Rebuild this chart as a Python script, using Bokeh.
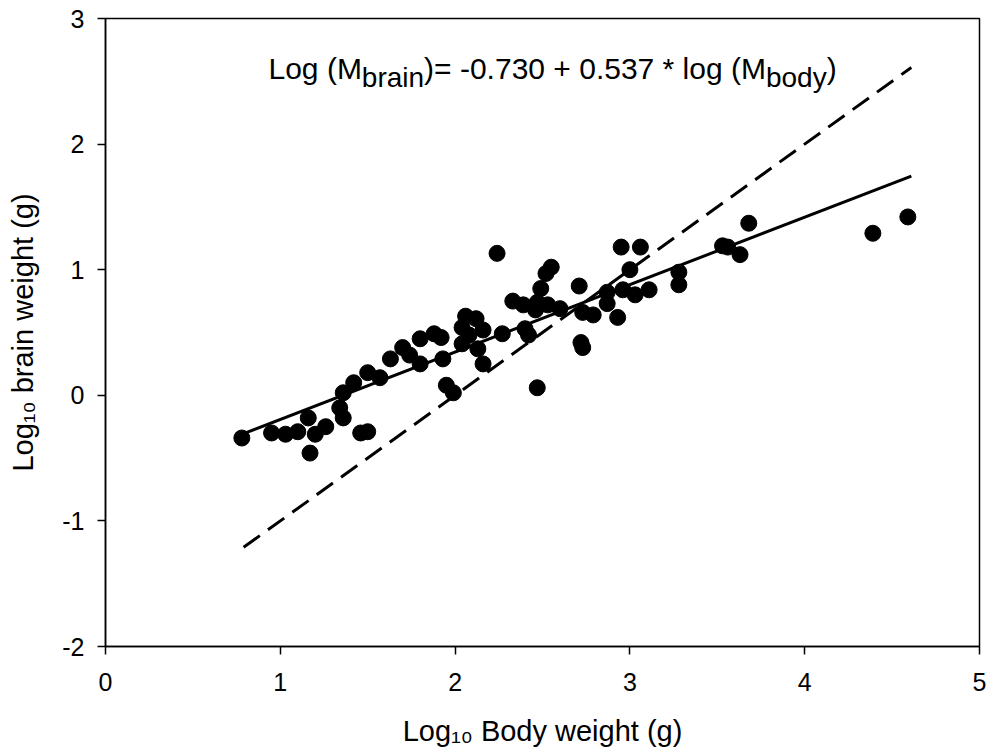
import math
from bokeh.plotting import figure
from bokeh.models import Label, Range1d, FixedTicker
from bokeh.embed import file_html
from bokeh.resources import INLINE

# ---- data ----
body = [0.78, 0.95, 1.03, 1.10, 1.16, 1.20, 1.26, 1.17, 1.36, 1.34, 1.36, 1.42,
        1.46, 1.50, 1.50, 1.57,
        2.24, 2.55, 2.52, 2.49, 2.71, 2.33, 2.39, 2.47, 2.46, 2.53, 2.60, 2.73,
        2.79, 2.72, 2.73, 2.47, 2.06, 2.12, 2.04, 2.16, 2.08, 2.04, 2.13, 2.27,
        2.40, 2.42, 2.16, 1.95, 1.99, 1.80, 1.88, 1.92, 1.93, 1.70, 1.63, 1.74,
        1.80,
        2.95, 3.06, 3.00, 2.87, 2.96, 3.03, 3.11, 3.28, 3.28, 2.93, 2.87,
        3.68, 3.53, 3.56, 3.63, 4.39, 4.59]
brain = [-0.34, -0.30, -0.31, -0.29, -0.18, -0.31, -0.25, -0.46, 0.02, -0.10, -0.18, 0.10,
         -0.30, -0.29, 0.18, 0.14,
         1.13, 1.02, 0.97, 0.85, 0.87, 0.75, 0.72, 0.74, 0.68, 0.72, 0.69, 0.66,
         0.64, 0.42, 0.38, 0.06, 0.63, 0.61, 0.54, 0.52, 0.48, 0.41, 0.37, 0.49,
         0.53, 0.48, 0.25, 0.08, 0.02, 0.45, 0.49, 0.46, 0.29, 0.38, 0.29, 0.32,
         0.25,
         1.18, 1.18, 1.00, 0.82, 0.84, 0.80, 0.84, 0.98, 0.88, 0.62, 0.73,
         1.37, 1.19, 1.18, 1.12, 1.29, 1.42]
fit_x = [0.79, 4.61]
fit_intercept, fit_slope = -0.730, 0.537
ref_x = [0.79, 4.61]
ref_intercept, ref_slope = -2.0, 1.0
x_ticks = [0, 1, 2, 3, 4, 5]
y_ticks = [-2, -1, 0, 1, 2, 3]
x_tick_labels = ["0", "1", "2", "3", "4", "5"]
y_tick_labels = ["-2", "-1", "0", "1", "2", "3"]
x_label = "Log\u2081\u2080 Body weight (g)"
y_label = "Log\u2081\u2080 brain weight (g)"
x_lim = (0, 5)
y_lim = (-2, 3)

FONT = "Liberation Sans"
FW, FH = 874, 628
SX = FW / (x_lim[1] - x_lim[0])
SY = FH / (y_lim[1] - y_lim[0])

p = figure(frame_width=FW, frame_height=FH,
           x_range=Range1d(*x_lim), y_range=Range1d(*y_lim),
           output_backend="svg", toolbar_location=None,
           min_border_left=105, min_border_right=7,
           min_border_top=18, min_border_bottom=108,
           background_fill_color="white", border_fill_color="white")

p.grid.visible = False
p.outline_line_color = "black"
p.outline_line_width = 1.5
for ax, ticks, labels in ((p.xaxis, x_ticks, x_tick_labels),
                          (p.yaxis, y_ticks, y_tick_labels)):
    ax.ticker = FixedTicker(ticks=ticks)
    ax.major_label_overrides = {t: l for t, l in zip(ticks, labels)}
    ax.axis_line_color = "black"
    ax.axis_line_width = 1.5
    ax.major_tick_line_color = "black"
    ax.major_tick_line_width = 1.5
    ax.major_tick_in = 0
    ax.major_tick_out = 8
    ax.minor_tick_line_color = None
    ax.major_label_text_font = FONT
    ax.major_label_text_font_size = "25px"
    ax.major_label_text_color = "black"
    ax.axis_label_text_font = FONT
    ax.axis_label_text_font_size = "29px"
    ax.axis_label_text_font_style = "normal"
    ax.axis_label_text_color = "black"
p.xaxis.major_label_standoff = 18
p.yaxis.major_label_standoff = 13
p.xaxis.axis_label = x_label
p.yaxis.axis_label = y_label
p.xaxis.axis_label_standoff = 21
p.yaxis.axis_label_standoff = 20

# regression line and reference (slope 1) line
p.line(ref_x, [ref_intercept + ref_slope * v for v in ref_x],
       line_color="black", line_width=3, line_dash="20 10")
p.line(fit_x, [fit_intercept + fit_slope * v for v in fit_x],
       line_color="black", line_width=3)
p.scatter(body, brain, size=16, fill_color="black", line_color="black")

# ---- equation built from pieces (Arial / Liberation Sans metrics) ----
W = {' ': 278, '(': 333, ')': 333, '*': 389, '+': 584, '-': 333, '.': 278,
     '=': 584, 'B': 667, 'L': 556, 'M': 833, 'a': 556, 'b': 556, 'd': 556,
     'e': 556, 'g': 556, 'h': 556, 'i': 222, 'l': 222, 'n': 556, 'o': 556,
     'r': 333, 't': 278, 'w': 722, 'y': 500}
for c in "0123456789":
    W[c] = 556


def width(s, size):
    return sum(W.get(c, 556) for c in s) * size / 1000.0


def place(pieces, x0, y0):
    """pieces: (text, size, baseline shift in px downward). x0,y0 in data."""
    pos = 0.0
    for text, size, shift in pieces:
        p.add_layout(Label(x=x0 + pos / SX, y=y0 - shift / SY, text=text,
                           text_font=FONT, text_font_size=f"{size}px",
                           text_color="black", text_align="left",
                           text_baseline="alphabetic"))
        pos += width(text, size)
    return pos


eq = [("Log (M", 30, 0), ("brain", 28, 9),
      (")= -0.730 + 0.537 * log (M", 30, 0), ("body", 28, 9), (")", 30, 0)]
# start at pixel x=268 (frame left at 105), baseline at pixel y=68 (frame top at 18)
place(eq, x_lim[0] + (268 - 105) / SX, y_lim[1] - (68 - 18) / SY)

open("out.html", "w").write(file_html(p, INLINE))
